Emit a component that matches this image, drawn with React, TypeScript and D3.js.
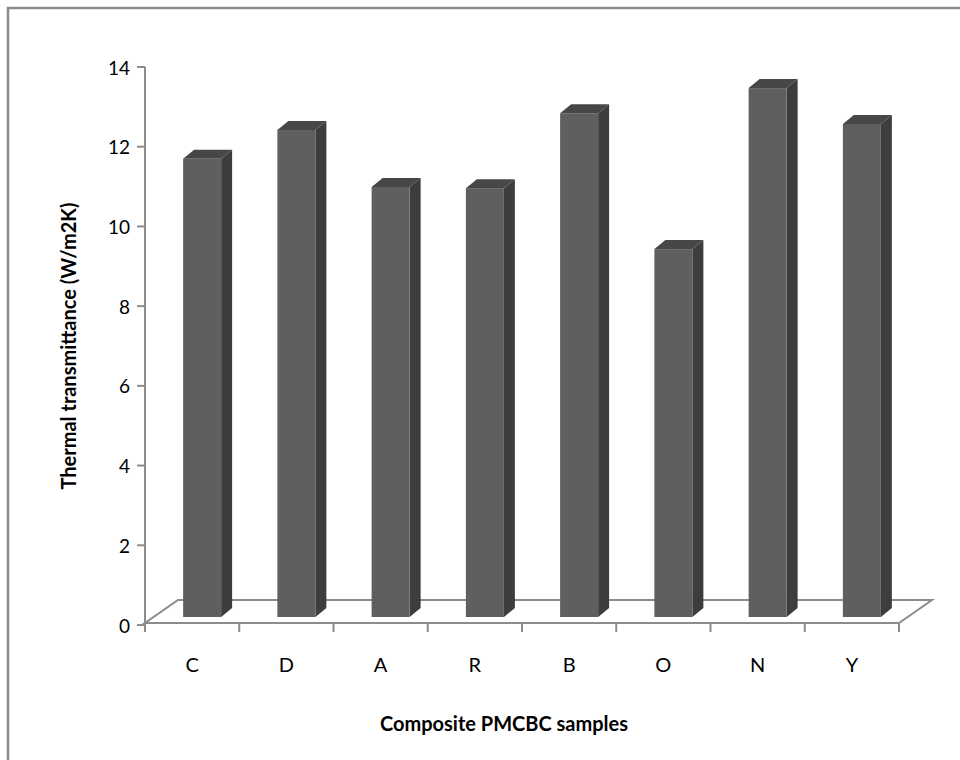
import React from 'react';
import * as d3 from 'd3';

const SAMPLES = ['C', 'D', 'A', 'R', 'B', 'O', 'N', 'Y'];
const TRANSMITTANCE = [11.5, 12.22, 10.79, 10.76, 12.64, 9.23, 13.27, 12.37];
const Y_TICKS = [0, 2, 4, 6, 8, 10, 12, 14];

const FONT = 'Lato, Open Sans, sans-serif';
const GRID = '#8c8c8c';

const W = 960;
const H = 760;

const App: React.FC = () => {
  const y = d3.scaleLinear().domain([0, 14]).range([625, 67]);
  const x = d3.scaleBand<string>().domain(SAMPLES).range([145, 899]).padding(0);
  const bw = x.bandwidth();

  // 3D offsets: floor depth and bar depth
  const floorDx = 33;
  const floorDy = -23;
  const barDx = 11;
  const barDy = -9;
  const barW = 38;
  const barLift = 8; // bars sit partway back on the floor

  const x0 = x.range()[0];
  const x1 = x.range()[1];
  const y0 = y(0);

  const floor = [
    [x0, y0 - 2],
    [x1, y0 - 2],
    [x1 + floorDx, y0 - 2 + floorDy],
    [x0 + floorDx, y0 - 2 + floorDy],
  ];

  return (
    <svg
      width={W}
      height={H}
      style={{ position: 'absolute', left: 0, top: 0, background: '#fff' }}
    >
      {/* outer frame */}
      <rect x={8} y={8} width={W + 20} height={H + 20} fill="#fff" stroke={GRID} strokeWidth={2.5} />

      {/* floor */}
      <polygon
        points={floor.map(p => p.join(',')).join(' ')}
        fill="#fff"
        stroke={GRID}
        strokeWidth={2}
      />

      {/* y axis */}
      <line x1={x0} x2={x0} y1={y(14)} y2={y0} stroke={GRID} strokeWidth={2} />
      {Y_TICKS.map(t => (
        <g key={t}>
          <line x1={x0 - 8} x2={x0} y1={y(t)} y2={y(t)} stroke={GRID} strokeWidth={2} />
          <text
            x={x0 - 15}
            y={y(t)}
            textAnchor="end"
            dominantBaseline="central"
            fontFamily={FONT}
            fontSize={19}
            fill="#000"
          >
            {t}
          </text>
        </g>
      ))}

      {/* x axis front edge ticks */}
      {[...SAMPLES.map(s => x(s)!), x1].map((px, i) => (
        <line key={i} x1={px} x2={px} y1={y0 - 2} y2={y0 + 7} stroke={GRID} strokeWidth={2} />
      ))}

      {/* bars */}
      {SAMPLES.map((s, i) => {
        const left = x(s)! + bw / 2 - 9;
        const right = left + barW;
        const bottom = y0 - barLift;
        const top = y(TRANSMITTANCE[i]) - barLift;
        const side = [
          [right, top],
          [right + barDx, top + barDy],
          [right + barDx, bottom + barDy],
          [right, bottom],
        ];
        const cap = [
          [left, top],
          [left + barDx, top + barDy],
          [right + barDx, top + barDy],
          [right, top],
        ];
        return (
          <g key={s}>
            <polygon points={side.map(p => p.join(',')).join(' ')} fill="#3d3d3d" />
            <polygon points={cap.map(p => p.join(',')).join(' ')} fill="#474747" />
            <rect x={left} y={top} width={barW} height={bottom - top} fill="#5f5f5f" />
          </g>
        );
      })}

      {/* category labels */}
      {SAMPLES.map(s => (
        <text
          key={s}
          x={x(s)! + bw / 2}
          y={664}
          textAnchor="middle"
          dominantBaseline="central"
          fontFamily={FONT}
          fontSize={20}
          fill="#000"
        >
          {s}
        </text>
      ))}

      {/* axis titles */}
      <text
        x={504}
        y={723}
        textAnchor="middle"
        dominantBaseline="central"
        fontFamily={FONT}
        fontSize={20}
        fontWeight="bold"
        fill="#000"
      >
        Composite PMCBC samples
      </text>
      <text
        transform="translate(68,346) rotate(-90)"
        textAnchor="middle"
        dominantBaseline="central"
        fontFamily={FONT}
        fontSize={20}
        fontWeight="bold"
        fill="#000"
      >
        Thermal transmittance (W/m2K)
      </text>
    </svg>
  );
};

export default App;
